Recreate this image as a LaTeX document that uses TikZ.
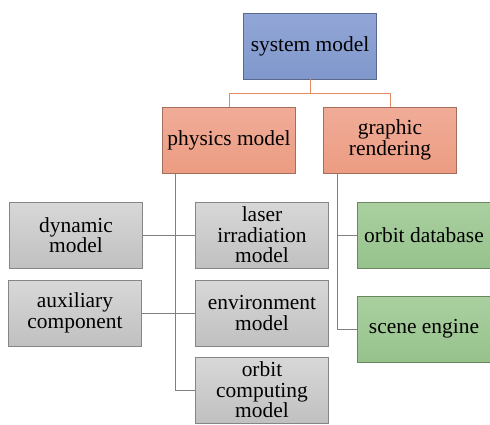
\documentclass[tikz,border=0pt]{standalone}
\usepackage{fontspec}
\setmainfont{Liberation Serif}
\definecolor{sysblue}{RGB}{128,152,204}
\definecolor{sysblueT}{RGB}{146,166,214}
\definecolor{physor}{RGB}{236,156,130}
\definecolor{physorT}{RGB}{240,172,152}
\definecolor{gfxgreen}{RGB}{150,194,140}
\definecolor{gfxgreenT}{RGB}{170,208,160}
\definecolor{boxgray}{RGB}{192,192,192}
\definecolor{boxgrayT}{RGB}{216,216,216}
\definecolor{linkor}{RGB}{226,140,96}
\definecolor{linkgray}{RGB}{128,128,128}
\begin{document}
\begin{tikzpicture}[x=1bp,y=-1bp,
    box/.style={draw=#1!70!black,line width=0.5bp,minimum width=133bp,minimum height=66bp,
        inner sep=0pt,align=center,font=\fontsize{21.5}{20.5}\selectfont},
    sysbox/.style={box=sysblue,top color=sysblueT,bottom color=sysblue},
    physbox/.style={box=physor,top color=physorT,bottom color=physor},
    greenbox/.style={box=gfxgreen,top color=gfxgreenT,bottom color=gfxgreen},
    graybox/.style={box=boxgray,top color=boxgrayT,bottom color=boxgray},
    orlink/.style={draw=linkor,line width=1bp},
    graylink/.style={draw=linkgray,line width=1bp}]
    \useasboundingbox (0,0) rectangle (490,424);
    % Top levels %
    \node[sysbox] (sys) at (310,46) {system model};
    \node[physbox] (phys) at (229,140) {physics model};
    \node[physbox] (gfx) at (390,140) {graphic\\rendering};
    % Physics side %
    \node[graybox] (dyn) at (76,235) {dynamic\\model};
    \node[graybox] (aux) at (75,313) {auxiliary\\component};
    \node[graybox] (laser) at (262,235) {laser\\irradiation\\model};
    \node[graybox] (env) at (262,313) {environment\\model};
    \node[graybox] (orb) at (262,390) {orbit\\computing\\model};
    % Rendering side %
    \node[greenbox] (odb) at (424,235) {orbit database};
    \node[greenbox] (scene) at (424,329) {scene engine};

    % Connectors %
    \coordinate (fork) at (310,93);
    \draw[orlink] (sys.south) -- (fork);
    \draw[orlink] (fork) -| (phys.north);
    \draw[orlink] (fork) -| (gfx.north);
    \coordinate (pv) at (175,174);
    \draw[graylink] (pv) |- (orb.west);
    \draw[graylink] (dyn.east) -- (dyn.east -| laser.west);
    \draw[graylink] (aux.east) -- (aux.east -| env.west);
    \coordinate (gv) at (337,174);
    \draw[graylink] (gv) |- (odb.west);
    \draw[graylink] (gv) |- (scene.west);
\end{tikzpicture}
\end{document}
